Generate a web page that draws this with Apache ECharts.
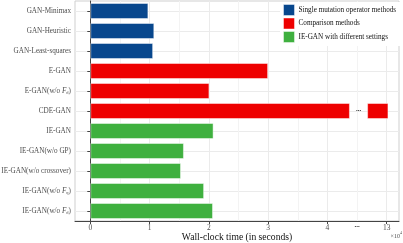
<!DOCTYPE html>
<html><head><meta charset="utf-8">
<script src="https://cdn.jsdelivr.net/npm/echarts@6/dist/echarts.min.js"></script>
<style>html,body{margin:0;padding:0;background:#fff}#c{width:403px;height:243px}</style>
</head><body><div id="c"></div>
<script>
// Categories (top to bottom); "_x" marks an italic F with subscript x
const categories = ['GAN-Minimax','GAN-Heuristic','GAN-Least-squares','E-GAN','E-GAN(w/o F_d)','CDE-GAN','IE-GAN','IE-GAN(w/o GP)','IE-GAN(w/o crossover)','IE-GAN(w/o F_q)','IE-GAN(w/o F_d)'];
// group of each category: 0 single mutation, 1 comparison, 2 IE-GAN settings
const groups = [0,0,0,1,1,1,2,2,2,2,2];
const groupNames = ['Single mutation operator methods','Comparison methods','IE-GAN with different settings'];
// wall-clock time in units of 10^4 seconds
const times = [0.98,1.08,1.06,3.0,2.01,13.03,2.08,1.58,1.53,1.92,2.07];
// broken axis: display positions up to 4.x are linear; label "13" sits at display 5
const tickValues = [0,1,2,3,4,5];
const tickLabels = ['0','1','2','3','4','13'];
const breakCut = 4.38;      // where long bar is cut (display units)
const breakResume = 4.67;   // where long bar resumes (display units)
const breakLabelPos = 4.5;  // where the "..." tick label sits
const brokenAnchorRaw = 13, brokenAnchorDisplay = 5;

const colors = ['#08478d','#ee0000','#3fb03f'];

function toDisplay(v){ return v > breakCut ? brokenAnchorDisplay + (v - brokenAnchorRaw) : v; }

const firstPart = [[],[],[]];
const gapPart = [], secondPart = [];
times.forEach((v,i)=>{
  for (let g=0; g<3; g++) firstPart[g].push(groups[i]===g ? (v>breakCut ? breakCut : v) : '-');
  if (v > breakCut) {
    gapPart.push(+(breakResume-breakCut).toFixed(4));
    secondPart.push(+(toDisplay(v)-breakResume).toFixed(4));
  } else { gapPart.push('-'); secondPart.push('-'); }
});

function fmtCat(s){
  return s.replace(/F_([a-z])/g, (m,sub)=>'{i|F}{s|'+sub+'}');
}
const FONT = 'Liberation Serif';
const barBorder = {borderColor:'rgba(255,255,255,0.45)', borderWidth:1};

const series = [];
for (let g=0; g<3; g++) {
  series.push({type:'bar', name:groupNames[g], stack:'t', data:firstPart[g], barWidth:'80%',
    itemStyle:Object.assign({color:colors[g]}, barBorder), animation:false});
}
series.push({type:'bar', name:'gap', stack:'t', data:gapPart, itemStyle:{color:'rgba(0,0,0,0)'},
  label:{show:true, position:'inside', formatter:'•••', fontSize:5, color:'#222', fontFamily:FONT}, silent:true, animation:false});
series.push({type:'bar', name:groupNames[1], stack:'t', data:secondPart,
  itemStyle:Object.assign({color:colors[1]}, barBorder), animation:false});

const xMin = -0.258, xMax = 5.208;
const chart = echarts.init(document.getElementById('c'), null, {renderer:'canvas'});
chart.setOption({
  animation:false,
  textStyle:{fontFamily:FONT},
  grid:{left:75, top:1, width:324, height:220, show:true, borderColor:'#cfcfcf', borderWidth:1, containLabel:false, outerBoundsMode:'none'},
  legend:{data:groupNames, orient:'vertical', left:280, top:2, itemWidth:11, itemHeight:11, itemGap:1.5,
    backgroundColor:'#fff', padding:[2,4,3,3], icon:'rect',
    itemStyle:{borderColor:'rgba(255,255,255,0.45)', borderWidth:1},
    textStyle:{fontFamily:FONT, fontSize:7.2, color:'#111', padding:[0,0,0,-1]}},
  xAxis:[{
    type:'value', min:xMin, max:xMax,
    name:'Wall-clock time (in seconds)', nameLocation:'middle', nameGap:11, nameMoveOverlap:false,
    nameTextStyle:{fontFamily:FONT, fontSize:9.6, color:'#111', verticalAlign:'top'},
    axisLine:{show:true, onZero:false, lineStyle:{color:'#444', width:1}},
    axisTick:{show:true, length:3, customValues:tickValues, lineStyle:{color:'#444'}},
    axisLabel:{customValues:tickValues.concat([breakLabelPos]), margin:3, fontSize:7.5, color:'#4d4d4d', fontFamily:FONT,
      formatter:(v)=>{ if (Math.abs(v-breakLabelPos)<1e-6) return '{d|•••}'; const k=tickValues.indexOf(v); return k>=0?tickLabels[k]:''; },
      rich:{d:{fontSize:5, color:'#222', padding:[0,0,2,0]}}},
    splitLine:{show:true, lineStyle:{color:'#ebebeb', width:1}}
  },{
    type:'value', min:xMin, max:xMax, position:'bottom',
    axisLine:{show:false}, axisLabel:{show:false},
    axisTick:{show:false, customValues:[0.5,1.5,2.5,3.5,4.5]},
    splitLine:{show:true, lineStyle:{color:'#f3f3f3', width:1}}
  }],
  yAxis:{
    type:'category', data:categories, inverse:true,
    axisLine:{show:true, lineStyle:{color:'#444', width:1}},
    axisTick:{show:true, alignWithLabel:true, length:3, lineStyle:{color:'#444'}},
    splitLine:{show:true, alignWithLabel:true, lineStyle:{color:'#ebebeb', width:1}},
    axisLabel:{margin:4, fontSize:7.2, color:'#4d4d4d', fontFamily:FONT, formatter:fmtCat,
      rich:{i:{fontStyle:'italic', fontSize:7.2, color:'#4d4d4d', fontFamily:FONT},
            s:{fontSize:4.5, color:'#4d4d4d', fontFamily:FONT, verticalAlign:'bottom', padding:[4,0,0,0]}}}
  },
  graphic:[{type:'text', right:3, top:233, style:{text:'×10', font:'6px "Liberation Serif"', fill:'#4d4d4d'}},
           {type:'text', right:1, top:231, style:{text:'4', font:'4px "Liberation Serif"', fill:'#4d4d4d'}}],
  series:series
});
</script></body></html>
